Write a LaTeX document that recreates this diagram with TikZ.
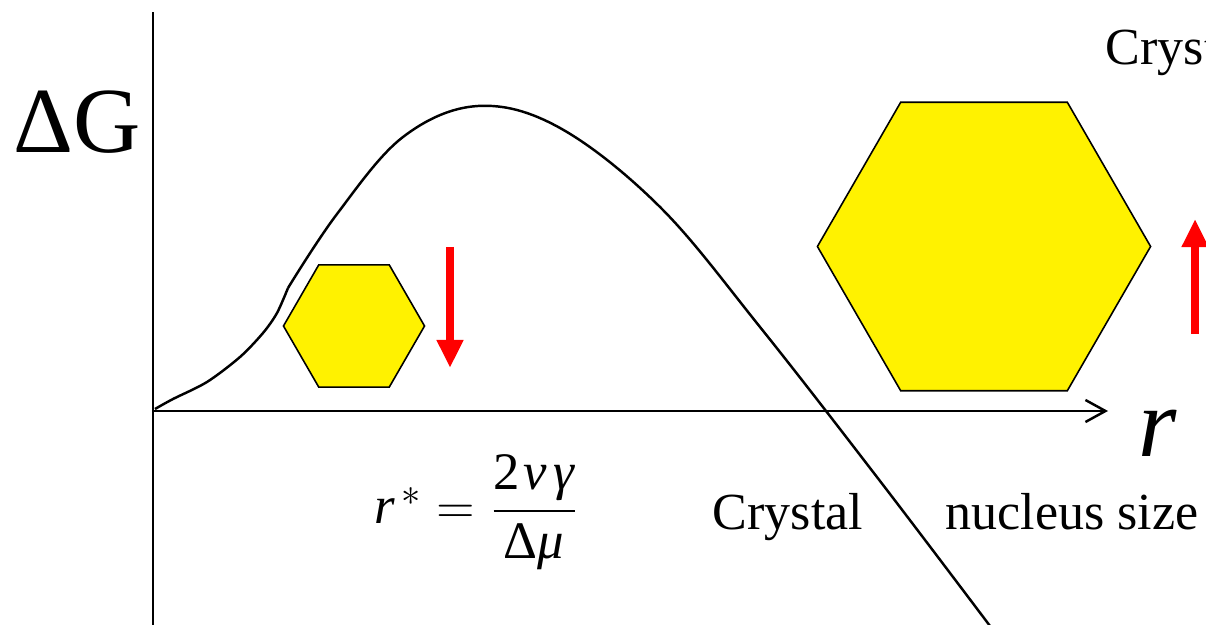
\documentclass[tikz,border=0pt]{standalone}
\usepackage{fontspec}
\setmainfont{Liberation Serif}
\usepackage{amsmath}
\usetikzlibrary{arrows.meta,positioning,shapes.geometric}

\begin{document}
\begin{tikzpicture}[x=0.01cm, y=-0.01cm,
    crystal/.style={regular polygon, regular polygon sides=6, draw=black,
      fill=yellow, line width=0.45pt, inner sep=0pt, outer sep=0pt},
    growarrow/.style={draw=red, line width=2.3pt,
      -{Triangle[width=0.25cm, length=0.28cm]}},
    lbl/.style={font=\fontsize{14.8}{18}\selectfont, inner sep=0pt}]
  \useasboundingbox (0,0) rectangle (1206,625);

  % axes
  \coordinate (origin) at (153,411);
  \coordinate (xEnd) at (1108,411);
  \coordinate (yTop) at (153,12);
  \coordinate (yBot) at (153,625);
  \draw[line width=0.85pt] (yBot) -- (yTop);
  \draw[line width=0.7pt, -{Straight Barb[length=0.2cm, width=0.22cm]}] (origin) -- (xEnd);

  % free energy curve
  \coordinate (kink) at (288,288);
  \draw[line width=0.7pt] plot[smooth, tension=0.5] coordinates {
    (155,409) (173,399) (207,382) (240,357) (263,333) (277,313) (kink)
  };
  \draw[line width=0.7pt] plot[smooth, tension=0.6] coordinates {
    (kink) (337,214) (403,137) (478,106) (560,128) (660,207)
    (760,327) (880,481) (990,626)
  };

  % nuclei
  \node[crystal, minimum size=1.41cm] (hexSmall) at (354,326) {};
  \node[crystal, minimum size=3.33cm] (hexLarge) at (984,246.5) {};

  % growth / dissolution arrows
  \coordinate (dnStart) at (450,247);
  \coordinate (dnEnd) at (450,368);
  \coordinate (upStart) at (1195,334);
  \coordinate (upEnd) at (1195,219);
  \draw[growarrow] (dnStart) -- (dnEnd);
  \draw[growarrow] (upStart) -- (upEnd);

  % labels
  \node[font=\fontsize{26.5}{30}\selectfont, inner sep=0pt, anchor=base west] (dG) at (13,153) {ΔG};
  \node[font=\fontsize{28}{32}\selectfont\itshape, inner sep=0pt, anchor=base] (rLabel) at (1158,457) {r};
  \node[lbl, anchor=base west] (crystalTop) at (1105,65) {Crystal};
  \node[lbl, anchor=base west] (crystalLbl) at (712,530) {Crystal};
  \node[lbl, anchor=base west] (sizeLbl) at (945,530) {nucleus size};
  \node[font=\fontsize{15}{18}\selectfont, inner sep=0pt, anchor=west] (critR) at (374,512)
    {$\textit{r}^{\,*} = \dfrac{\text{2}\kern1pt\textit{ν}\kern2pt\textit{γ}}{\text{Δ}\textit{μ}}$};
\end{tikzpicture}
\end{document}
